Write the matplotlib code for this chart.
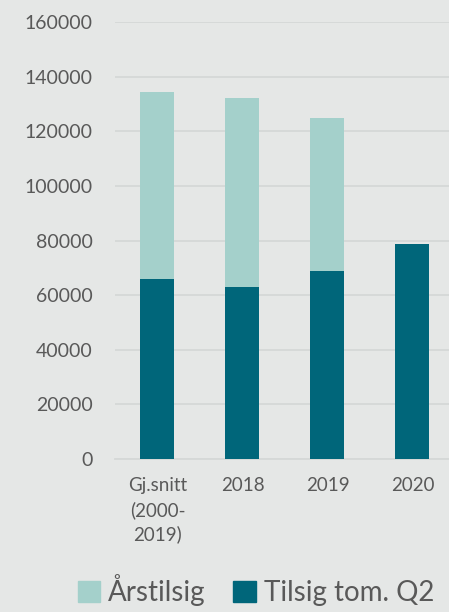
import matplotlib.pyplot as plt
import matplotlib.patches as patches
import numpy as np

# Data
categories = ['Gj.snitt\n(2000-\n2019)', '2018', '2019', '2020']
aarstilsig = [134400, 132200, 125000, np.nan]
tilsig_q2 = [65900, 63000, 68700, 78800]
y_ticks = [0, 20000, 40000, 60000, 80000, 100000, 120000, 140000, 160000]

bg = '#E5E7E6'
light = '#A4D0CB'
dark = '#00667A'
text_col = '#595959'

plt.rcParams['font.family'] = ['Lato', 'DejaVu Sans']

fig = plt.figure(figsize=(4.49, 6.12), dpi=100, facecolor=bg)
ax = fig.add_axes([0.256, 0.25, 0.744, 0.714], facecolor=bg)

x = np.arange(len(categories))
ax.bar(x, aarstilsig, width=0.4, color=light, zorder=2, label='Årstilsig')
ax.bar(x, tilsig_q2, width=0.4, color=dark, zorder=3, label='Tilsig tom. Q2')

ax.set_xlim(-0.5, 3.43)
ax.set_ylim(0, 160000)
ax.set_yticks(y_ticks)
ax.set_yticklabels([str(v) for v in y_ticks])
ax.set_xticks(x)
ax.set_xticklabels(categories, linespacing=1.45)
ax.yaxis.grid(True, color='#D5D8D7', linewidth=1.3, zorder=0)
ax.set_axisbelow(True)

for s in ['top', 'right', 'left']:
    ax.spines[s].set_visible(False)
ax.spines['bottom'].set_color('#D5D8D7')
ax.spines['bottom'].set_linewidth(1.3)
ax.tick_params(axis='y', length=0, pad=16, labelsize=14, labelcolor=text_col)
ax.tick_params(axis='x', length=0, pad=13, labelsize=13.5, labelcolor=text_col)

# Legend
handles = [patches.Patch(color=light), patches.Patch(color=dark)]
fig.legend(handles, ['Årstilsig', 'Tilsig tom. Q2'], loc='center',
           bbox_to_anchor=(0.57, 0.036), ncol=2, frameon=False,
           fontsize=20, labelcolor=text_col, handlelength=0.8, handleheight=0.8,
           handletextpad=0.3, columnspacing=1.0)

fig.savefig('out.png', dpi=100, facecolor=bg)
